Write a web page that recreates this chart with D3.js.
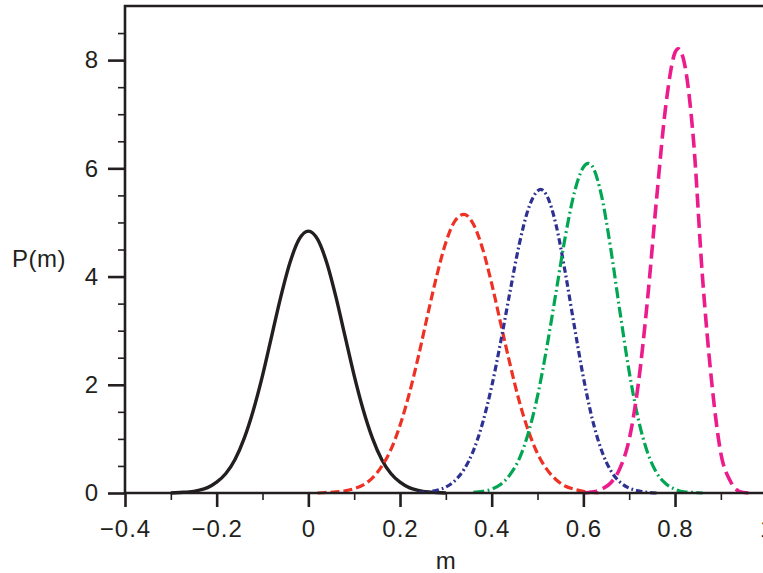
<!DOCTYPE html>
<html>
<head>
<meta charset="utf-8">
<script src="https://cdn.jsdelivr.net/npm/d3@7"></script>
<style>
  body { margin: 0; background: #fff; }
  svg { display: block; }
  text { font-family: "Liberation Sans", Arial, Helvetica, sans-serif; fill: #231f20; }
</style>
</head>
<body>
<script>
var width = 763,
    height = 573;

// valeurs
var xTicks = [-0.4, -0.2, 0, 0.2, 0.4, 0.6, 0.8, 1.0];
var yTicks = [0, 2, 4, 6, 8];

var blackM = [-0.30, -0.28, -0.26, -0.24, -0.22, -0.20, -0.18, -0.16, -0.14, -0.12, -0.10, -0.08, -0.06, -0.04, -0.02,
              0, 0.02, 0.04, 0.06, 0.08, 0.10, 0.12, 0.14, 0.16, 0.18, 0.20, 0.22, 0.24, 0.26, 0.28, 0.30];
var blackP = [0.00, 0.01, 0.02, 0.05, 0.10, 0.20, 0.36, 0.62, 1.01, 1.53, 2.17, 2.90, 3.63, 4.26, 4.69,
              4.84, 4.69, 4.26, 3.63, 2.90, 2.17, 1.53, 1.01, 0.62, 0.36, 0.20, 0.10, 0.05, 0.02, 0.01, 0.00];

var redM = [0.02, 0.04, 0.06, 0.08, 0.10, 0.12, 0.14, 0.16, 0.18, 0.20, 0.22, 0.24, 0.26, 0.28, 0.30, 0.32,
            0.34, 0.36, 0.38, 0.40, 0.42, 0.44, 0.46, 0.48, 0.50, 0.52, 0.54, 0.56, 0.58, 0.60, 0.62, 0.64];
var redP = [0.00, 0.01, 0.02, 0.04, 0.08, 0.15, 0.28, 0.49, 0.80, 1.25, 1.83, 2.52, 3.28, 4.01, 4.63, 5.03,
            5.15, 4.97, 4.52, 3.87, 3.12, 2.38, 1.70, 1.15, 0.73, 0.44, 0.25, 0.13, 0.07, 0.03, 0.01, 0.00];

var blueM = [0.24, 0.26, 0.28, 0.30, 0.32, 0.34, 0.36, 0.38, 0.40, 0.42, 0.44, 0.46, 0.48, 0.50, 0.507,
             0.52, 0.54, 0.56, 0.58, 0.60, 0.62, 0.64, 0.66, 0.68, 0.70, 0.72, 0.74, 0.76];
var blueP = [0.01, 0.02, 0.05, 0.11, 0.23, 0.44, 0.78, 1.29, 1.97, 2.81, 3.72, 4.59, 5.25, 5.58, 5.61,
             5.50, 4.97, 4.10, 3.10, 2.14, 1.35, 0.78, 0.41, 0.20, 0.09, 0.04, 0.01, 0.00];

var greenM = [0.36, 0.38, 0.40, 0.42, 0.44, 0.46, 0.48, 0.50, 0.52, 0.54, 0.56, 0.58, 0.60, 0.611,
              0.62, 0.64, 0.66, 0.68, 0.70, 0.72, 0.74, 0.76, 0.78, 0.80, 0.82, 0.84, 0.86];
var greenP = [0.01, 0.03, 0.07, 0.16, 0.34, 0.63, 1.11, 1.79, 2.68, 3.69, 4.71, 5.54, 6.02, 6.09,
              6.03, 5.48, 4.50, 3.34, 2.24, 1.36, 0.75, 0.37, 0.17, 0.07, 0.02, 0.01, 0.00];

var pinkM = [0.60, 0.62, 0.64, 0.66, 0.68, 0.70, 0.72, 0.74, 0.76, 0.78, 0.80, 0.807,
             0.82, 0.84, 0.86, 0.88, 0.90, 0.92, 0.94, 0.96];
var pinkP = [0.00, 0.02, 0.07, 0.19, 0.46, 0.99, 2.02, 3.58, 5.46, 7.17, 8.14, 8.21,
             7.96, 6.55, 3.98, 2.05, 0.73, 0.23, 0.03, 0.00];

var ink = "#231f20";

var series = [
    { m: blackM, p: blackP, color: ink, width: 3.4, dash: null },
    { m: redM, p: redP, color: "#ee3124", width: 3.2, dash: "9,4" },
    { m: blueM, p: blueP, color: "#2e3192", width: 3.2, dash: "6.5,3,1.8,3" },
    { m: greenM, p: greenP, color: "#00a651", width: 3.2, dash: "11,3.5,1.8,3.5" },
    { m: pinkM, p: pinkP, color: "#ec1c8c", width: 3.6, dash: "14,6" }
];

var svg = d3.select("body")
    .append("svg")
    .attr("width", width)
    .attr("height", height);

var x = d3.scaleLinear().domain([-0.4, 1.0]).range([125, 766.7]);
var y = d3.scaleLinear().domain([0, 9]).range([493, 6]);

var line = d3.line()
    .x(function (d) { return x(d[0]); })
    .y(function (d) { return y(d[1]); })
    .curve(d3.curveMonotoneX);

// courbes
svg.selectAll("path.curve")
    .data(series)
    .join("path")
    .attr("class", "curve")
    .attr("fill", "none")
    .attr("stroke", function (d) { return d.color; })
    .attr("stroke-width", function (d) { return d.width; })
    .attr("stroke-dasharray", function (d) { return d.dash; })
    .attr("d", function (d) {
        return line(d.m.map(function (m, i) { return [m, d.p[i]]; }));
    });

// petites graduations
var xMinor = d3.range(-0.3, 1.0, 0.2);
var yMinor = d3.range(0.5, 9, 1).concat(d3.range(1, 9, 2));

var gxMinor = svg.append("g")
    .attr("transform", "translate(0," + y(0) + ")")
    .call(d3.axisBottom(x).tickValues(xMinor).tickSize(7).tickFormat(""));
var gyMinor = svg.append("g")
    .attr("transform", "translate(" + x(-0.4) + ",0)")
    .call(d3.axisLeft(y).tickValues(yMinor).tickSize(7).tickFormat(""));
[gxMinor, gyMinor].forEach(function (g) {
    g.select(".domain").remove();
    g.selectAll("line").attr("stroke", ink).attr("stroke-width", 1.6);
});

// grandes graduations + etiquettes
var gx = svg.append("g")
    .attr("transform", "translate(0," + y(0) + ")")
    .call(d3.axisBottom(x).tickValues(xTicks).tickSize(14).tickPadding(13).tickFormat(d3.format("~g")));
var gy = svg.append("g")
    .attr("transform", "translate(" + x(-0.4) + ",0)")
    .call(d3.axisLeft(y).tickValues(yTicks).tickSize(17).tickPadding(9).tickFormat(d3.format("~g")));
[gx, gy].forEach(function (g) {
    g.select(".domain").remove();
    g.selectAll("line").attr("stroke", ink).attr("stroke-width", 2.6);
    g.selectAll("text")
        .attr("fill", ink)
        .style("font-size", "24px")
        .style("letter-spacing", "1px")
        .style("font-family", "'Liberation Sans', Arial, sans-serif");
});

// cadre
svg.append("path")
    .attr("fill", "none")
    .attr("stroke", ink)
    .attr("stroke-width", 2.6)
    .attr("d", "M" + (width + 10) + "," + y(9) + "H" + x(-0.4) + "V" + y(0) + "H" + (width + 10));

// titres des axes
svg.append("text")
    .attr("x", 12)
    .attr("y", 267)
    .style("font-size", "24px")
    .style("letter-spacing", "0.5px")
    .text("P(m)");

svg.append("text")
    .attr("x", x(0.3))
    .attr("y", 569)
    .attr("text-anchor", "middle")
    .style("font-size", "24px")
    .text("m");
</script>
</body>
</html>
